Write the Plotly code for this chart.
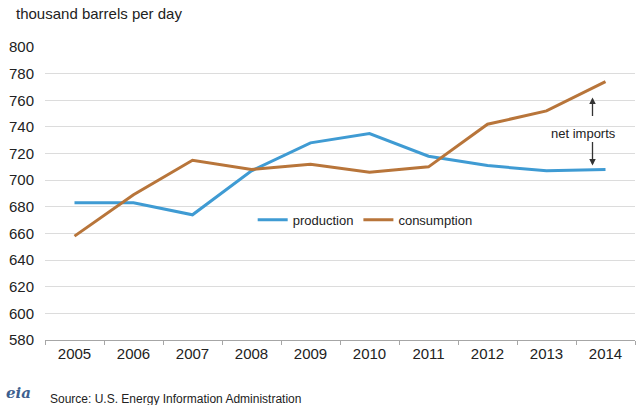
import plotly.graph_objects as go

years = ["2005", "2006", "2007", "2008", "2009", "2010", "2011", "2012", "2013", "2014"]
production = [683, 683, 674, 707, 728, 735, 718, 711, 707, 708]
consumption = [658, 689, 715, 708, 712, 706, 710, 742, 752, 774]
y_ticks = [580, 600, 620, 640, 660, 680, 700, 720, 740, 760, 780, 800]

FONT = "Liberation Sans, Arial, sans-serif"
BLUE = "#3f9bd3"
BROWN = "#b8753a"

fig = go.Figure()
fig.add_trace(go.Scatter(x=years, y=production, mode="lines", name="production",
                         line=dict(color=BLUE, width=3)))
fig.add_trace(go.Scatter(x=years, y=consumption, mode="lines", name="consumption",
                         line=dict(color=BROWN, width=3)))

fig.update_layout(
    width=637, height=405,
    margin=dict(l=45, r=2, t=47, b=65),
    paper_bgcolor="white", plot_bgcolor="white",
    font=dict(family=FONT, size=15, color="#222222"),
    showlegend=True,
    legend=dict(orientation="h", x=0.352, y=0.41, xanchor="left", yanchor="middle",
                bgcolor="rgba(0,0,0,0)", font=dict(size=13, color="#222222"),
                itemwidth=30, tracegroupgap=0),
)
fig.update_xaxes(type="category", categoryorder="array", categoryarray=years,
                 range=[-0.5, len(years) - 0.5],
                 showgrid=False, showline=True, linecolor="#a6a6a6",
                 linewidth=1, ticks="outside", tickson="boundaries", ticklen=4,
                 tickcolor="#a6a6a6", tickangle=0, tickfont=dict(size=15, color="#222222"))
fig.update_yaxes(range=[580, 800], tickvals=y_ticks, showgrid=True, gridcolor="#dcdcdc",
                 gridwidth=1, zeroline=False, showline=False, ticks="",
                 ticklabelstandoff=10,
                 tickfont=dict(size=15, color="#222222"))

# y-axis unit label
fig.add_annotation(xref="paper", yref="paper", x=-0.052, y=1.08, xanchor="left", yanchor="bottom",
                   text="thousand barrels per day", showarrow=False,
                   font=dict(size=15, color="#222222"))

last = years.index("2014")
# net imports annotation with arrows
fig.add_annotation(xref="x", yref="y", x=last, y=735, text="net imports", showarrow=False,
                   xanchor="center", font=dict(size=13, color="#222222"), xshift=-22)
fig.add_annotation(xref="x", yref="y", x=last, y=762, ax=0, ay=20,
                   showarrow=True, arrowhead=2, arrowsize=1,
                   arrowwidth=1.3, arrowcolor="#333333", text="", xshift=-13)
fig.add_annotation(xref="x", yref="y", x=last, y=711, ax=0, ay=-25,
                   showarrow=True, arrowhead=2, arrowsize=1,
                   arrowwidth=1.3, arrowcolor="#333333", text="", xshift=-13)

# footer
fig.add_annotation(xref="paper", yref="paper", x=-0.07, y=-0.18, xanchor="left", yanchor="middle",
                   text="<b><i>eia</i></b>", showarrow=False,
                   font=dict(family="DejaVu Serif, serif", size=15, color="#3d5f8f"))
fig.add_annotation(xref="paper", yref="paper", x=0.005, y=-0.2, xanchor="left", yanchor="middle",
                   text="Source: U.S. Energy Information Administration", showarrow=False,
                   font=dict(size=12, color="#222222"))

fig.write_html("out.html")
